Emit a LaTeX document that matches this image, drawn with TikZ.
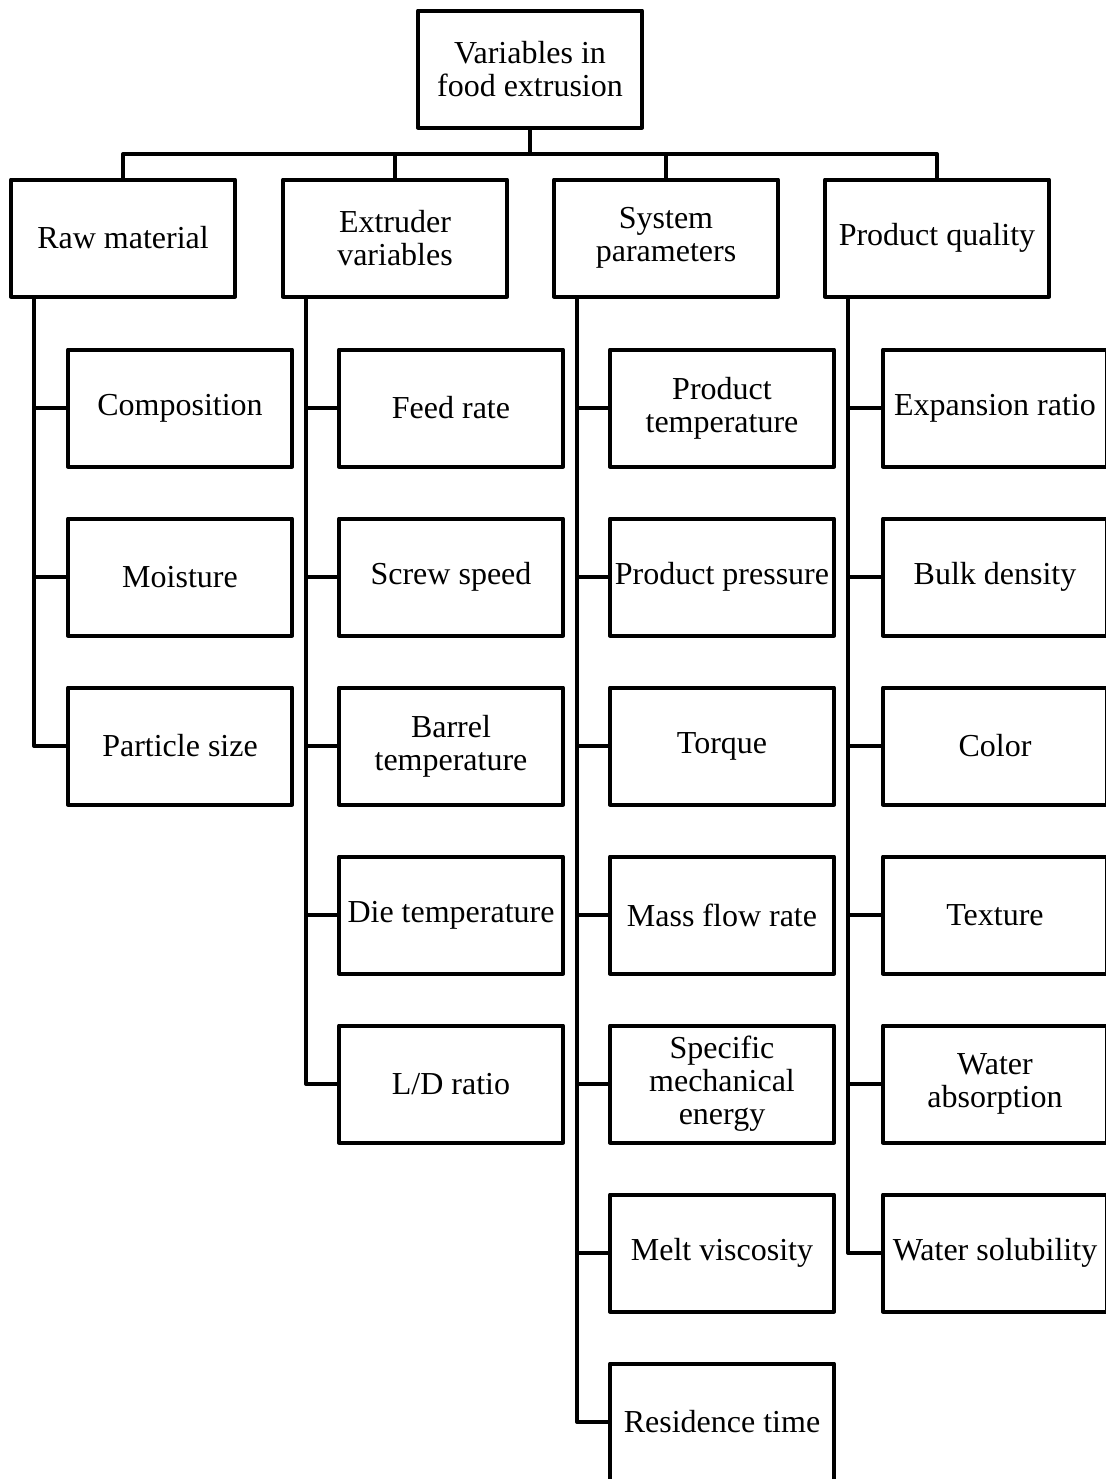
\documentclass[tikz,border=0pt]{standalone}
\usepackage{fontspec}
\setmainfont{Liberation Serif}
\begin{document}
\begin{tikzpicture}[
    x=.5pt,y=-.5pt,
    every node/.style={font=\fontsize{16}{16.5}\selectfont},
    box/.style={draw,line width=2pt,line join=round,minimum width=112pt,
        minimum height=58.5pt,align=center,inner sep=0pt},
    link/.style={line width=2pt,line join=round}]
    \useasboundingbox (0,0) rectangle (1105,1479);
    \node[box] (root) at (530,69) {Variables in\\food extrusion};
    % categories
    \foreach \name/\x/\txt in {raw/123/Raw material,ext/395/Extruder\\variables,
        sys/666/System\\parameters,qual/937/Product quality}
        \node[box] (\name) at (\x,238) {\txt};
    \coordinate (bus) at (530,154);
    \draw[link] (root.south) -- (bus);
    \draw[link] (raw.north) |- (bus) -| (qual.north);
    \draw[link] (ext.north) -- (ext.north |- bus);
    \draw[link] (sys.north) -- (sys.north |- bus);
    % children
    \foreach \txt [count=\i] in {Composition,Moisture,Particle size}
        \node[box] (raw-\i) at (180,239+169*\i) {\txt};
    \foreach \txt [count=\i] in {Feed rate,Screw speed,Barrel\\temperature,
        Die temperature,L/D ratio}
        \node[box] (ext-\i) at (451,239+169*\i) {\txt};
    \foreach \txt [count=\i] in {Product\\temperature,Product pressure,Torque,
        Mass flow rate,Specific\\mechanical\\energy,Melt viscosity,Residence time}
        \node[box] (sys-\i) at (722,239+169*\i) {\txt};
    \foreach \txt [count=\i] in {Expansion ratio,Bulk density,Color,Texture,
        Water\\absorption,Water solubility}
        \node[box] (qual-\i) at (995,239+169*\i) {\txt};
    % trunks and branches
    \foreach \name/\n in {raw/3,ext/5,sys/7,qual/6} {
        \coordinate (\name-t) at ([xshift=12.5pt]\name.south west);
        \draw[link] (\name-t) |- (\name-\n.west);
        \foreach \i in {1,...,\n}
            \draw[link] (\name-\i.west) -- (\name-\i.west -| \name-t);
    }
\end{tikzpicture}
\end{document}
